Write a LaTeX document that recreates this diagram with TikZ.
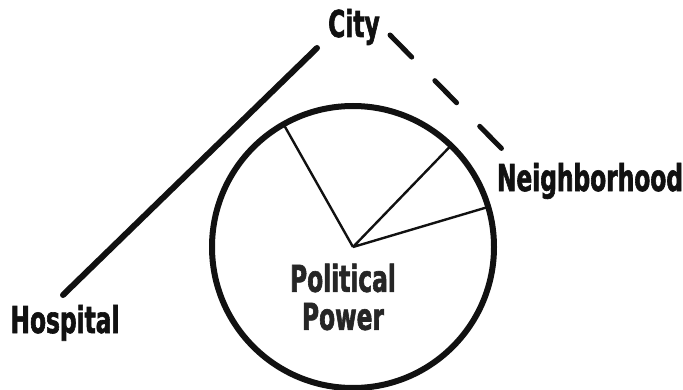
\documentclass[tikz,border=0pt]{standalone}
\usepackage{fontspec}
\newfontfamily\tagfont{DejaVu Sans}[FakeStretch=0.63, FakeBold=1.6]
\definecolor{inkdark}{HTML}{111111}
\definecolor{inkgray}{HTML}{262626}
\tikzset{tagtext/.style={font=\tagfont\bfseries\fontsize{37}{38}\selectfont, text=inkdark, inner sep=0pt}}

\begin{document}
\begin{tikzpicture}[x=1pt,y=1pt]
\useasboundingbox (0,0) rectangle (683,389);
% labels
\node[tagtext, anchor=base] (hosp) at (65,56) {Hospital};
\node[tagtext, anchor=base] (city) at (354,352) {City};
\node[tagtext, anchor=base] (hood) at (590,198) {Neighborhood};
\node[tagtext, text=inkgray, align=center] (power) at (343,92) {Political\\Power};
% links
\coordinate (hospEnd) at (63,94);
\coordinate (cityLeft) at (317,341);
\coordinate (cityRight) at (390,354);
\coordinate (hoodEnd) at (503,239);
\draw[inkdark, line width=6, line cap=round] (hospEnd) -- (cityLeft);
\draw[inkdark, line width=5, line cap=round, dash pattern=on 31 off 33] (cityRight) -- (hoodEnd);
% power ring
\coordinate (hub) at (353,142);
\draw[inkdark, line width=6] (hub) circle (141);
\draw[inkdark, line width=2.4] (hub) -- ++(119.5:139) (hub) -- ++(46:139) (hub) -- ++(16.5:139);
\end{tikzpicture}
\end{document}
